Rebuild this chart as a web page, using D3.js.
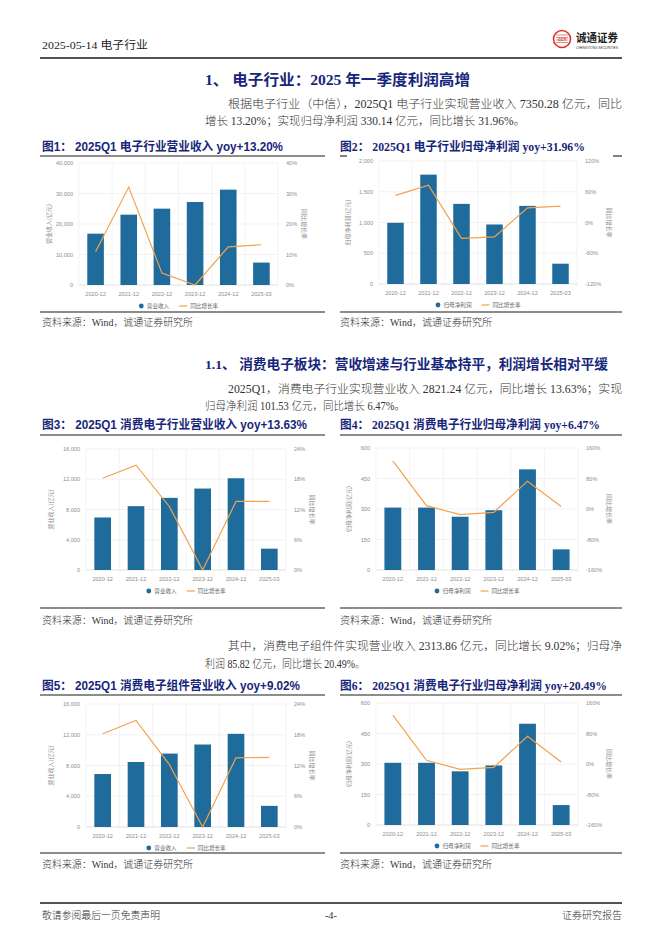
<!DOCTYPE html>
<html>
<head>
<meta charset="utf-8">
<script src="https://cdn.jsdelivr.net/npm/d3@7"></script>
<style>
  html, body { margin: 0; padding: 0; background: #fff; }
  svg { display: block; }
</style>
</head>
<body>
<svg id="page"></svg>
<script>
// ---- data ----
const years = ["2020-12", "2021-12", "2022-12", "2023-12", "2024-12", "2025-03"];

const rev1 = [16830, 23060, 25030, 27210, 31260, 7350];
const yoy1 = [10.9, 32.1, 3.9, 0.0, 12.5, 13.2];
const np2 = [995, 1778, 1303, 968, 1270, 330];
const yoy2 = [53.0, 72.6, -31.0, -28.0, 28.5, 31.96];
const rev3 = [6945, 8440, 9540, 10770, 12130, 2821];
const yoy3 = [18.2, 20.8, 12.6, 0.0, 13.6, 13.63];
const np4 = [307, 307, 262, 294, 495, 101.5];
const yoy4 = [126, 8.7, -14.8, -8.7, 73, 6.47];
const rev5 = [6890, 8460, 9550, 10730, 12120, 2750];
const yoy5 = [18.2, 20.8, 12.2, 0.0, 13.5, 13.6];
const np6 = [306, 306, 264, 293, 498, 98];
const yoy6 = [128, 9.6, -14, -8.7, 72.6, 5.2];

const revTicks1 = [0, 10000, 20000, 30000, 40000];
const pctTicks1 = [0, 10, 20, 30, 40];
const npTicks2 = [0, 500, 1000, 1500, 2000];
const pctTicks2 = [-120, -60, 0, 60, 120];
const revTicks3 = [0, 4000, 8000, 12000, 16000];
const pctTicks3 = [0, 6, 12, 18, 24];
const npTicks4 = [0, 150, 300, 450, 600];
const pctTicks4 = [-160, -80, 0, 80, 160];

const barColor = "#1f6c9c";
const lineColor = "#f3a24d";
const navy = "#17267a";
const ink = "#333";
const sans = "'Liberation Sans', 'Noto Sans CJK SC', sans-serif";
const serif = "'Liberation Serif', 'Noto Sans CJK SC', serif";
const cjk = "'Noto Sans CJK SC', sans-serif";

const W = 662, H = 936;
const svg = d3.select("#page").attr("width", W).attr("height", H);
svg.append("rect").attr("width", W).attr("height", H).attr("fill", "#fff");

function hline(x1, x2, y, w) {
  svg.append("line").attr("x1", x1).attr("x2", x2).attr("y1", y).attr("y2", y)
    .attr("stroke", "#1a1a1a").attr("stroke-width", w || 1.1);
}

function txt(x, y, s, o) {
  const t = svg.append("text").attr("x", x).attr("y", y).text(s)
    .attr("font-family", o.font || serif)
    .attr("font-size", o.size || 12)
    .attr("fill", o.fill || ink)
    .attr("font-weight", o.bold ? "bold" : (o.light ? 300 : "normal"));
  if (o.len) t.attr("textLength", o.len).attr("lengthAdjust", "spacingAndGlyphs");
  if (o.anchor) t.attr("text-anchor", o.anchor);
  return t;
}

// ---- header ----
txt(42, 49, "2025-05-14 电子行业", {size: 11, len: 106, fill: "#222"});
hline(40, 622, 58, 1.3);
const logo = svg.append("g").attr("transform", "translate(562,39)");
logo.append("circle").attr("r", 8.5).attr("fill", "#fff").attr("stroke", "#d8352a").attr("stroke-width", 1.6);
[-4, -1.5, 1, 3.5].forEach(dy => logo.append("line").attr("x1", -6).attr("x2", 6)
  .attr("y1", dy).attr("y2", dy).attr("stroke", "#e06a5f").attr("stroke-width", 0.8));
logo.append("text").attr("text-anchor", "middle").attr("y", 1.5).attr("font-size", 4)
  .attr("font-family", sans).attr("font-weight", "bold").attr("fill", "#c22").text("CCT");
txt(576, 42, "诚通证券", {font: cjk, size: 11, bold: true, fill: "#222", len: 42});
txt(576, 49, "CHENGTONG SECURITIES", {font: sans, size: 3.4, fill: "#333", len: 42});

// ---- section texts ----
txt(205, 85, "1、 电子行业：2025 年一季度利润高增", {size: 15, bold: true, fill: navy, len: 265});
txt(228, 108, "根据电子行业（中信），2025Q1 电子行业实现营业收入 7350.28 亿元，同比", {size: 11.5, len: 394, light: true});
txt(205, 125, "增长 13.20%；实现归母净利润 330.14 亿元，同比增长 31.96%。", {size: 11.5, len: 320, light: true});

txt(205, 369, "1.1、 消费电子板块：营收增速与行业基本持平，利润增长相对平缓", {size: 13.5, bold: true, fill: navy, len: 403});
txt(228, 393, "2025Q1，消费电子行业实现营业收入 2821.24 亿元，同比增长 13.63%；实现", {size: 11.5, len: 394, light: true});
txt(205, 410, "归母净利润 101.53 亿元，同比增长 6.47%。", {size: 11.5, len: 200, light: true});

txt(228, 650, "其中，消费电子组件件实现营业收入 2313.86 亿元，同比增长 9.02%；归母净", {size: 11.5, len: 394, light: true});
txt(205, 668, "利润 85.82 亿元，同比增长 20.49%。", {size: 11.5, len: 160, light: true});

// ---- figure titles, rules, sources ----
const figTitles = [
  {x: 42, y: 151, s: "图1：  2025Q1 电子行业营业收入 yoy+13.20%", len: 241, font: sans},
  {x: 340, y: 151, s: "图2：  2025Q1 电子行业归母净利润 yoy+31.96%", len: 245, font: serif},
  {x: 42, y: 429, s: "图3：  2025Q1 消费电子行业营业收入 yoy+13.63%", len: 265, font: sans},
  {x: 340, y: 429, s: "图4：  2025Q1 消费电子行业归母净利润 yoy+6.47%", len: 260, font: serif},
  {x: 42, y: 690, s: "图5：  2025Q1 消费电子组件营业收入 yoy+9.02%", len: 258, font: sans},
  {x: 340, y: 690, s: "图6：  2025Q1 消费电子行业归母净利润 yoy+20.49%", len: 267, font: serif}
];
figTitles.forEach(f => txt(f.x, f.y, f.s, {size: 12, bold: true, fill: navy, len: f.len, font: f.font}));

hline(40, 325, 156); hline(340, 347, 156); hline(613, 622, 156);
hline(40, 325, 435); hline(340, 622, 435);
hline(40, 325, 695); hline(340, 622, 695);
[312, 608, 853].forEach(y => { hline(40, 325, y); hline(340, 622, y); });
[326, 624, 868].forEach(y => {
  txt(42, y, "资料来源：Wind，诚通证券研究所", {size: 10.5, len: 151, light: true});
  txt(340, y, "资料来源：Wind，诚通证券研究所", {size: 10.5, len: 152, light: true});
});

// ---- footer ----
hline(40, 622, 903, 1.3);
txt(42, 919, "敬请参阅最后一页免责声明", {size: 10.5, len: 118, light: true});
txt(331, 919, "-4-", {size: 10.5, anchor: "middle"});
txt(622, 919, "证券研究报告", {size: 10.5, anchor: "end", len: 60, light: true});

// ---- charts ----
function drawChart(c) {
  const g = svg.append("g");
  const x = d3.scaleBand().domain(years).range([c.x0, c.x1]).paddingInner(0.5).paddingOuter(0.25);
  const step = x.step();
  const yL = d3.scaleLinear().domain(d3.extent(c.lTicks)).range([c.y1, c.y0]);
  const yR = d3.scaleLinear().domain(d3.extent(c.rTicks)).range([c.y1, c.y0]);
  const grey = "#8e8e8e";
  const fs = 5.6;

  // grid
  g.selectAll(".hg").data(c.lTicks).enter().append("line")
    .attr("x1", c.x0).attr("x2", c.x1).attr("y1", d => yL(d)).attr("y2", d => yL(d))
    .attr("stroke", d => d === 0 ? "#d4d4d4" : "#ececec").attr("stroke-width", 0.7);
  g.selectAll(".vg").data(d3.range(years.length + 1)).enter().append("line")
    .attr("x1", i => c.x0 + i * step).attr("x2", i => c.x0 + i * step)
    .attr("y1", c.y0).attr("y2", c.y1 + 2)
    .attr("stroke", "#efefef").attr("stroke-width", 0.7);

  // bars
  g.selectAll(".bar").data(c.bars).enter().append("rect")
    .attr("x", (d, i) => x(years[i])).attr("width", x.bandwidth())
    .attr("y", d => yL(d)).attr("height", d => yL(0) - yL(d))
    .attr("fill", barColor);

  // line
  const line = d3.line().x((d, i) => x(years[i]) + x.bandwidth() / 2).y(d => yR(d));
  g.append("path").datum(c.line).attr("d", line)
    .attr("fill", "none").attr("stroke", lineColor).attr("stroke-width", 1.2);

  // tick labels
  g.selectAll(".lt").data(c.lTicks).enter().append("text")
    .attr("x", c.x0 - 6).attr("y", d => yL(d) + 2).attr("text-anchor", "end")
    .attr("font-size", fs).attr("font-family", sans).attr("fill", grey)
    .text(d => d3.format(",")(d));
  g.selectAll(".rt").data(c.rTicks).enter().append("text")
    .attr("x", c.x1 + 8).attr("y", d => yR(d) + 2)
    .attr("font-size", fs).attr("font-family", sans).attr("fill", grey)
    .text(d => d + "%");
  g.selectAll(".xt").data(years).enter().append("text")
    .attr("x", d => x(d) + x.bandwidth() / 2).attr("y", c.y1 + 11).attr("text-anchor", "middle")
    .attr("font-size", fs).attr("font-family", sans).attr("fill", grey)
    .text(d => d);

  // axis titles
  const midY = (c.y0 + c.y1) / 2;
  g.append("text").attr("transform", `translate(${c.ltx},${midY}) rotate(-90)`)
    .attr("text-anchor", "middle").attr("font-size", 6).attr("font-family", cjk).attr("fill", grey)
    .text(c.lTitle);
  g.append("text").attr("transform", `translate(${c.rtx},${midY}) rotate(90)`)
    .attr("text-anchor", "middle").attr("font-size", 6).attr("font-family", cjk).attr("fill", grey)
    .text("同比增长率");

  // legend
  const ly = c.y1 + 21;
  const w1 = c.barName.length * 5.6, w2 = 5 * 5.6;
  const total = 5 + 3 + w1 + 10 + 8 + 3 + w2;
  let lx = (c.x0 + c.x1) / 2 - total / 2;
  g.append("circle").attr("cx", lx + 2.5).attr("cy", ly).attr("r", 2.4).attr("fill", barColor);
  g.append("text").attr("x", lx + 8).attr("y", ly + 2).attr("font-size", 5.6)
    .attr("font-family", cjk).attr("fill", "#666").text(c.barName);
  lx += 8 + w1 + 10;
  g.append("line").attr("x1", lx).attr("x2", lx + 8).attr("y1", ly).attr("y2", ly)
    .attr("stroke", lineColor).attr("stroke-width", 1.2);
  g.append("text").attr("x", lx + 11).attr("y", ly + 2).attr("font-size", 5.6)
    .attr("font-family", cjk).attr("fill", "#666").text("同比增长率");
}

drawChart({x0: 79, x1: 278, y0: 163, y1: 285, ltx: 51, rtx: 302, bars: rev1, line: yoy1,
  lTicks: revTicks1, rTicks: pctTicks1, lTitle: "营业收入(亿元)", barName: "营业收入"});
drawChart({x0: 379, x1: 577, y0: 161, y1: 284, ltx: 350, rtx: 607, bars: np2, line: yoy2,
  lTicks: npTicks2, rTicks: pctTicks2, lTitle: "归母净利润(亿元)", barName: "归母净利润"});
drawChart({x0: 86, x1: 286, y0: 449, y1: 570, ltx: 53, rtx: 310, bars: rev3, line: yoy3,
  lTicks: revTicks3, rTicks: pctTicks3, lTitle: "营业收入(亿元)", barName: "营业收入"});
drawChart({x0: 376, x1: 578, y0: 448, y1: 570, ltx: 351, rtx: 607, bars: np4, line: yoy4,
  lTicks: npTicks4, rTicks: pctTicks4, lTitle: "归母净利润(亿元)", barName: "归母净利润"});
drawChart({x0: 86, x1: 286, y0: 704, y1: 827, ltx: 53, rtx: 310, bars: rev5, line: yoy5,
  lTicks: revTicks3, rTicks: pctTicks3, lTitle: "营业收入(亿元)", barName: "营业收入"});
drawChart({x0: 376, x1: 578, y0: 703, y1: 825, ltx: 351, rtx: 607, bars: np6, line: yoy6,
  lTicks: npTicks4, rTicks: pctTicks4, lTitle: "归母净利润(亿元)", barName: "归母净利润"});
</script>
</body>
</html>
